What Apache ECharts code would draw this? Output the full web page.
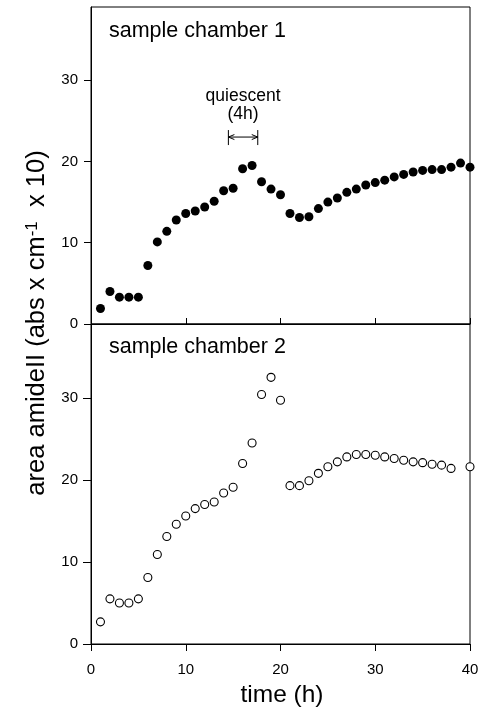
<!DOCTYPE html>
<html><head><meta charset="utf-8">
<script src="https://cdn.jsdelivr.net/npm/echarts@6/dist/echarts.min.js"></script>
<style>html,body{margin:0;padding:0;background:#fff}#c{width:486px;height:707px}</style>
</head><body><div id="c"></div>
<script>
// ---- data ----
const hours = [1,2,3,4,5,6,7,8,9,10,11,12,13,14,15,16,17,18,19,20,21,22,23,24,25,26,27,28,29,30,31,32,33,34,35,36,37,38,39,40];
const chamber1 = [1.9,4.0,3.3,3.3,3.3,7.2,10.1,11.4,12.8,13.6,13.9,14.4,15.1,16.4,16.7,19.1,19.5,17.5,16.6,15.9,13.6,13.1,13.2,14.2,15.0,15.5,16.2,16.6,17.1,17.4,17.7,18.1,18.4,18.7,18.9,19.0,19.0,19.3,19.8,19.3];
const chamber2 = [2.7,5.5,5.0,5.0,5.5,8.1,10.9,13.1,14.6,15.6,16.5,17.0,17.3,18.4,19.1,22.0,24.5,30.4,32.5,29.7,19.3,19.3,19.9,20.8,21.6,22.2,22.8,23.1,23.1,23.0,22.8,22.6,22.4,22.2,22.1,21.9,21.8,21.4,null,21.6];
const xTicks = [0,10,20,30,40];
const yTicks = [0,10,20,30];
const panelTitles = ['sample chamber 1','sample chamber 2'];
const xTitle = 'time (h)';
const quiescentSpan = [14.5, 17.6];   // hours
const quiescentLevels = {text1: 28.0, text2: 25.8, arrow: 23.0}; // y values

const FONT = '"Liberation Sans", Arial, Helvetica, sans-serif';
const chart = echarts.init(document.getElementById('c'), null, {renderer: 'canvas'});
function pairs(vals) { return hours.map((h, i) => [h, vals[i]]).filter(p => p[1] != null); }

function yAxis(gi, tickLen) {
  return {
    type: 'value', gridIndex: gi, min: 0, max: 39, interval: 10,
    axisLine: {show: true, lineStyle: {color: '#000', width: 1}},
    axisTick: {show: true, length: tickLen, customValues: yTicks, lineStyle: {color: '#000', width: 1}},
    axisLabel: {show: true, customValues: yTicks, color: '#000', fontSize: 15, fontFamily: FONT, margin: 13},
    splitLine: {show: false}
  };
}

const option = {
  animation: false,
  backgroundColor: '#fff',
  grid: [
    {left: 91, right: 16, top: 7, height: 317, show: true, borderColor: '#000', borderWidth: 1, backgroundColor: 'transparent'},
    {left: 91, right: 16, top: 324, height: 320, show: true, borderColor: '#000', borderWidth: 1, backgroundColor: 'transparent'}
  ],
  xAxis: [
    {type: 'value', gridIndex: 0, min: 0, max: 40, interval: 10,
     axisLine: {show: true, lineStyle: {color: '#000'}},
     axisTick: {show: true, inside: true, length: 6, customValues: xTicks, lineStyle: {color: '#000'}},
     axisLabel: {show: false}, splitLine: {show: false}},
    {type: 'value', gridIndex: 1, min: 0, max: 40, interval: 10,
     axisLine: {show: true, lineStyle: {color: '#000'}},
     axisTick: {show: true, length: 7, customValues: xTicks, lineStyle: {color: '#000'}},
     axisLabel: {show: true, customValues: xTicks, color: '#000', fontSize: 15, fontFamily: FONT, margin: 18},
     splitLine: {show: false}}
  ],
  yAxis: [yAxis(0, 7), yAxis(1, 8)],
  series: [
    {type: 'scatter', xAxisIndex: 0, yAxisIndex: 0, data: pairs(chamber1),
     symbol: 'circle', symbolSize: 9, itemStyle: {color: '#000', opacity: 1}},
    {type: 'scatter', xAxisIndex: 1, yAxisIndex: 1, data: pairs(chamber2),
     symbol: 'circle', symbolSize: 8, itemStyle: {color: '#fff', borderColor: '#000', borderWidth: 1.1, opacity: 1}}
  ]
};
chart.setOption(option);

// ---- annotations ----
const p0 = chart.convertToPixel({gridIndex: 0}, [quiescentSpan[0], quiescentLevels.arrow]);
const p1 = chart.convertToPixel({gridIndex: 0}, [quiescentSpan[1], quiescentLevels.arrow]);
const midX = (p0[0] + p1[0]) / 2;
const t1 = chart.convertToPixel({gridIndex: 0}, [0, quiescentLevels.text1]);
const t2 = chart.convertToPixel({gridIndex: 0}, [0, quiescentLevels.text2]);
const ay = p0[1];
const lineS = {stroke: '#000', lineWidth: 1};
const graphics = [
  {type: 'text', x: 109, y: 31, style: {text: panelTitles[0], font: '21.5px ' + FONT, fill: '#000', align: 'left', verticalAlign: 'middle'}},
  {type: 'text', x: 109, y: 347, style: {text: panelTitles[1], font: '21.5px ' + FONT, fill: '#000', align: 'left', verticalAlign: 'middle'}},
  {type: 'text', x: 282, y: 695, style: {text: xTitle, font: '24.5px ' + FONT, fill: '#000', align: 'center', verticalAlign: 'middle'}},
  {type: 'text', x: 36.5, y: 323, rotation: Math.PI / 2,
   style: {text: '{n|area amideII (abs x cm}{s|-1}{n|  x 10)}', align: 'center', verticalAlign: 'middle', fill: '#000',
     rich: {n: {fontSize: 25.5, fontFamily: FONT, fill: '#000', lineHeight: 26},
            s: {fontSize: 17, fontFamily: FONT, fill: '#000', verticalAlign: 'top', lineHeight: 17}}}},
  {type: 'text', x: midX, y: t1[1], style: {text: 'quiescent', font: '17.5px ' + FONT, fill: '#000', align: 'center', verticalAlign: 'middle'}},
  {type: 'text', x: midX, y: t2[1], style: {text: '(4h)', font: '17.5px ' + FONT, fill: '#000', align: 'center', verticalAlign: 'middle'}},
  {type: 'line', shape: {x1: p0[0], y1: ay, x2: p1[0], y2: ay}, style: lineS},
  {type: 'line', shape: {x1: p0[0], y1: ay - 7, x2: p0[0], y2: ay + 8}, style: lineS},
  {type: 'line', shape: {x1: p1[0], y1: ay - 7, x2: p1[0], y2: ay + 8}, style: lineS},
  {type: 'polyline', shape: {points: [[p0[0] + 6, ay - 2.5], [p0[0], ay], [p0[0] + 6, ay + 2.5]]}, style: lineS},
  {type: 'polyline', shape: {points: [[p1[0] - 6, ay - 2.5], [p1[0], ay], [p1[0] - 6, ay + 2.5]]}, style: lineS}
];
chart.setOption({graphic: graphics});
</script>
</body></html>
